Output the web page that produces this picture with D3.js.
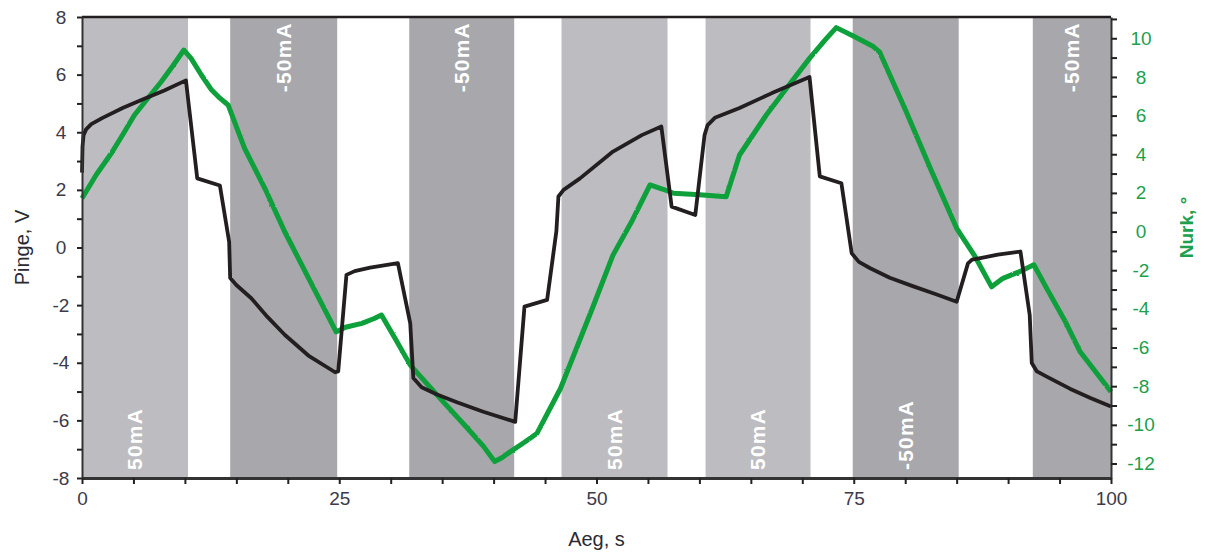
<!DOCTYPE html>
<html>
<head>
<meta charset="utf-8">
<script src="https://cdn.jsdelivr.net/npm/d3@7"></script>
<style>
  body { margin: 0; background: #fff; }
  svg { display: block; font-family: "Liberation Sans", Arial, sans-serif; }
</style>
</head>
<body>
<svg id="chart" width="1206" height="554"></svg>
<script>
// Current pulses (s, mA)
const bandStart = [0, 14.4, 31.8, 46.6, 60.6, 74.9, 92.4];
const bandEnd = [10.3, 24.8, 42.0, 56.9, 70.8, 85.2, 100];
const bandCurrent = [50, -50, -50, 50, 50, -50, -50];
const bandLabelSide = ["bottom", "top", "top", "bottom", "bottom", "bottom", "top"];

// Voltage trace (Pinge, V)
const voltTime = [0, 0.05, 0.15, 0.4, 0.9, 2, 4, 6, 8, 10.1,
  11.2, 13.4, 14.3, 14.4, 15.0, 16.45, 18, 19.7, 22, 24.6,
  24.9, 25.7, 26.5, 28, 30.7, 31.9, 32.2, 33, 34.5, 36.5, 39, 42.1,
  43.0, 45.2, 46.1, 46.3, 46.8, 48.4, 51.6, 54.4, 56.3,
  57.3, 59.6, 60.5, 60.8, 61.5, 63.9, 67, 70.7,
  71.7, 73.8, 74.8, 75.5, 76.6, 78.5, 80.8, 83, 85.0,
  86.1, 86.5, 87.3, 89, 91.2, 92.1, 92.3, 92.8, 93.75, 96, 98, 100];
const voltValue = [2.6, 3.5, 3.9, 4.1, 4.28, 4.5, 4.85, 5.15, 5.45, 5.8,
  2.4, 2.15, 0.2, -1.06, -1.3, -1.76, -2.4, -3.03, -3.75, -4.33,
  -4.3, -0.95, -0.82, -0.7, -0.54, -2.63, -4.53, -4.85, -5.1, -5.38, -5.7, -6.05,
  -2.05, -1.82, 0.56, 1.77, 2.0, 2.4, 3.33, 3.9, 4.2,
  1.42, 1.13, 3.9, 4.25, 4.5, 4.84, 5.35, 5.92,
  2.47, 2.23, -0.2, -0.5, -0.72, -1.05, -1.35, -1.62, -1.88,
  -0.55, -0.42, -0.37, -0.25, -0.14, -2.34, -4.01, -4.3, -4.48, -4.9, -5.22, -5.52];

// Angle trace (Nurk, °)
const angleTime = [0, 1.4, 2.85, 4.0, 5.1, 6.4, 7.7, 8.8, 9.9,
  10.6, 11.6, 12.6, 13.4, 14.2, 15.8, 17.8, 19.7, 22.2, 24.7,
  25.6, 27.2, 28.4, 29.1, 30.5, 31.9, 34.8, 37.5, 39.0, 40.1,
  40.8, 41.6, 43.0, 44.2, 46.5, 49.6, 51.6, 53.5, 55.2,
  56.4, 57.5, 60.0, 62.6, 63.9, 66.5, 68.6, 70.7, 72.2, 73.3,
  75.0, 76.9, 77.5, 80.1, 82.5, 85.0, 86.8, 88.4,
  89.5, 91.0, 92.5, 93.75, 95.5, 97.0, 100];
const angleValue = [1.72, 2.95, 4.05, 5.05, 6.03, 6.9, 7.75, 8.55, 9.39,
  8.96, 8.1, 7.32, 6.9, 6.55, 4.3, 2.2, -0.01, -2.6, -5.19,
  -4.95, -4.75, -4.5, -4.32, -5.6, -6.91, -8.63, -10.2, -11.1, -11.9,
  -11.7, -11.4, -10.9, -10.45, -8.12, -3.97, -1.22, 0.6, 2.41,
  2.2, 1.98, 1.9, 1.8, 3.96, 6.03, 7.5, 8.96, 9.9, 10.55,
  10.1, 9.57, 9.3, 6.2, 3.2, 0.17, -1.3, -2.86,
  -2.42, -2.1, -1.72, -2.94, -4.6, -6.22, -8.29];

// Axis tick values
const xTicks = [0, 25, 50, 75, 100];
const voltTicks = [-8, -6, -4, -2, 0, 2, 4, 6, 8];
const angleTicks = [-12, -10, -8, -6, -4, -2, 0, 2, 4, 6, 8, 10];

const margin = { left: 82, right: 95, top: 17, bottom: 76 };
const W = 1206, H = 554;
const svg = d3.select("#chart");

const x = d3.scaleLinear().domain([0, 100]).range([margin.left, W - margin.right]);
const yV = d3.scaleLinear().domain([-8, 8]).range([H - margin.bottom, margin.top]);
const yA = d3.scaleLinear().domain([-12.75, 11.1]).range([H - margin.bottom, margin.top]);

const lightBand = "#bcbcc1", darkBand = "#a8a7ac";
const green = "#0aa03a", black = "#231f20";
const tickText = "#3d3a4a", greenText = "#1da04d";

// Slight roughness for the measured angle trace
const defs = svg.append("defs");
const rough = defs.append("filter").attr("id", "rough")
  .attr("x", "-5%").attr("y", "-5%").attr("width", "110%").attr("height", "110%");
rough.append("feTurbulence").attr("type", "fractalNoise")
  .attr("baseFrequency", 0.35).attr("numOctaves", 1).attr("seed", 3).attr("result", "noise");
rough.append("feDisplacementMap").attr("in", "SourceGraphic").attr("in2", "noise")
  .attr("scale", 2).attr("xChannelSelector", "R").attr("yChannelSelector", "G");

// Shaded pulse intervals
const bands = bandStart.map((s, i) => ({ s, e: bandEnd[i], c: bandCurrent[i], side: bandLabelSide[i] }));
svg.append("g").selectAll("rect").data(bands).join("rect")
  .attr("x", d => x(d.s))
  .attr("width", d => x(d.e) - x(d.s))
  .attr("y", yV(8))
  .attr("height", yV(-8) - yV(8))
  .attr("fill", d => d.c > 0 ? lightBand : darkBand);

svg.append("g").selectAll("text").data(bands).join("text")
  .attr("transform", d => {
    const cx = (x(d.s) + x(d.e)) / 2 + 7;
    const ty = d.side === "top" ? yV(8) + 5 : yV(-8) - 8;
    return `translate(${cx},${ty}) rotate(-90)`;
  })
  .attr("text-anchor", d => d.side === "top" ? "end" : "start")
  .attr("fill", "#fff")
  .attr("font-size", 21)
  .attr("font-weight", "bold")
  .attr("letter-spacing", 1.2)
  .text(d => `${d.c}mA`);

// Traces
const voltLine = d3.line().x((d, i) => x(voltTime[i])).y(d => yV(d));
const angleLine = d3.line().x((d, i) => x(angleTime[i])).y(d => yA(d));

svg.append("path").datum(angleValue)
  .attr("d", angleLine)
  .attr("fill", "none").attr("stroke", green)
  .attr("stroke-width", 5).attr("stroke-linejoin", "round")
  .attr("filter", "url(#rough)");

svg.append("path").datum(voltValue)
  .attr("d", voltLine)
  .attr("fill", "none").attr("stroke", black)
  .attr("stroke-width", 3.8).attr("stroke-linejoin", "round");

// Top frame line
svg.append("line")
  .attr("x1", x(0)).attr("x2", x(100))
  .attr("y1", yV(8)).attr("y2", yV(8))
  .attr("stroke", black).attr("stroke-width", 2.5);

// Axes
function styleAxis(g, color) {
  g.selectAll(".domain").attr("stroke", "#333").attr("stroke-width", 2);
  g.selectAll(".tick line").attr("stroke", "#222").attr("stroke-width", 2);
  g.selectAll(".tick text").attr("fill", color).attr("font-size", 19)
    .attr("font-family", "'Liberation Sans', Arial, sans-serif");
}

const xAxis = svg.append("g")
  .attr("transform", `translate(0,${yV(-8)})`)
  .call(d3.axisBottom(x).tickValues(d3.range(0, 101, 5)).tickSize(6).tickSizeOuter(0)
    .tickFormat(d => xTicks.includes(d) ? d : ""));
styleAxis(xAxis, tickText);
xAxis.select(".domain").attr("stroke-width", 3);
xAxis.selectAll(".tick text").attr("dy", "0.95em");

const leftAxis = svg.append("g")
  .attr("transform", `translate(${x(0)},0)`)
  .call(d3.axisLeft(yV).tickValues(d3.range(-8, 9, 1)).tickSize(5).tickSizeOuter(0)
    .tickFormat(d => voltTicks.includes(d) ? d : ""));
styleAxis(leftAxis, tickText);
leftAxis.selectAll(".tick text").attr("text-anchor", "middle").attr("x", 61 - x(0));

const rightAxis = svg.append("g")
  .attr("transform", `translate(${x(100)},0)`)
  .call(d3.axisRight(yA).tickValues(d3.range(-12, 12, 1)).tickSize(6).tickSizeOuter(0)
    .tickFormat(d => angleTicks.includes(d) ? d : ""));
styleAxis(rightAxis, greenText);
rightAxis.selectAll(".tick text").attr("text-anchor", "middle").attr("x", 1141 - x(100));

// Axis titles
svg.append("text")
  .attr("x", (x(0) + x(100)) / 2).attr("y", 546)
  .attr("text-anchor", "middle").attr("font-size", 20).attr("fill", "#2a2a33")
  .text("Aeg, s");

svg.append("text")
  .attr("transform", `translate(29,${(yV(8) + yV(-8)) / 2}) rotate(-90)`)
  .attr("text-anchor", "middle").attr("font-size", 20).attr("fill", "#2a2a33")
  .text("Pinge, V");

svg.append("text")
  .attr("transform", `translate(1193,${(yV(8) + yV(-8)) / 2 - 20}) rotate(-90)`)
  .attr("text-anchor", "middle").attr("font-size", 19).attr("font-weight", "bold")
  .attr("fill", greenText)
  .text("Nurk, °");
</script>
</body>
</html>
